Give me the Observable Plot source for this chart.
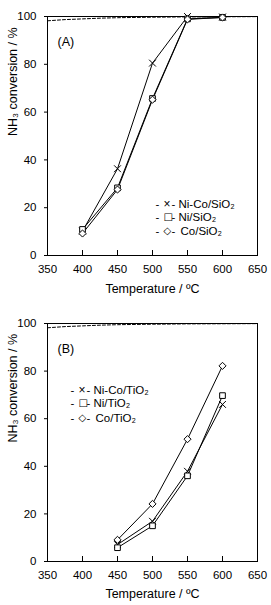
<!DOCTYPE html>
<html>
<head>
<meta charset="utf-8">
<script src="https://cdn.jsdelivr.net/npm/d3@7"></script>
<script src="https://cdn.jsdelivr.net/npm/@observablehq/plot@0.6"></script>
<style>
  html, body { margin: 0; padding: 0; background: #fff; }
  #charts { width: 271px; }
  #charts svg { display: block; }
</style>
</head>
<body>
<div id="charts"></div>
<script>
// Axis ticks
const tempTicks = [350, 400, 450, 500, 550, 600, 650];
const convTicks = [0, 20, 40, 60, 80, 100];

// Equilibrium NH3 conversion (dashed curve)
const eqTemps = [350, 375, 400, 425, 450, 500, 550, 600, 650];
const eqConv = [98.2, 98.7, 99.0, 99.3, 99.5, 99.7, 99.85, 99.9, 99.95];

// (A) SiO2-supported catalysts
const tempsA = [400, 450, 500, 550, 600];
const niCoSiO2 = [10.2, 36.3, 80.5, 100.0, 99.8];
const niSiO2 = [10.9, 28.3, 65.7, 99.0, 99.6];
const coSiO2 = [9.2, 27.6, 65.2, 98.8, 99.6];

// (B) TiO2-supported catalysts
const tempsB = [450, 500, 550, 600];
const niCoTiO2 = [7.1, 16.9, 37.9, 66.0];
const niTiO2 = [5.8, 15.0, 36.0, 69.7];
const coTiO2 = [9.1, 24.2, 51.4, 82.2];

// Marker per catalyst: plot symbol and the matching legend glyph
const symbols = ["times", "square", "diamond2"];
const glyphs = ["×", "□", "◇"];
const font = "Arial, 'Liberation Sans', sans-serif";

function toRows(temps, seriesList, names) {
  const rows = [];
  seriesList.forEach((vals, i) => {
    vals.forEach((v, j) => rows.push({series: names[i], symbol: symbols[i], T: temps[j], conv: v}));
  });
  return rows;
}

// One legend entry "-marker- name", offset from the frame's top-left corner
function legendEntry(name, i, dx, dy, textDx) {
  const base = {frameAnchor: "top-left", dy, fill: "#000", fontSize: "11.5px"};
  const glyphFont = i === 0
    ? {fontFamily: font, fontSize: "12px"}
    : {fontFamily: "'DejaVu Sans', sans-serif", fontSize: "10px"};
  return [
    Plot.text(["-"], {...base, dx: dx - 8}),
    Plot.text([glyphs[i]], {...base, ...glyphFont, dx}),
    Plot.text(["-"], {...base, dx: dx + 8}),
    Plot.text([name], {...base, dx: dx + textDx, textAnchor: "start"})
  ];
}

function panel({tag, temps, series, names, height, marginTop, marginBottom, titleDy, legend}) {
  const rows = toRows(temps, series, names);
  const eq = eqTemps.map((T, i) => ({T, conv: eqConv[i]}));
  return Plot.plot({
    width: 271,
    height,
    marginLeft: 47,
    marginRight: 14,
    marginTop,
    marginBottom,
    style: {fontFamily: font, fontSize: "11.5px", color: "#000", background: "#fff"},
    x: {domain: [350, 650]},
    y: {domain: [0, 100]},
    symbol: {type: "identity"},
    marks: [
      Plot.frame({stroke: "#000", strokeWidth: 1}),
      Plot.axisX(tempTicks, {tickSize: -5, tickPadding: 14, label: null, fontSize: "11.5px"}),
      Plot.axisY(convTicks, {tickSize: 3, tickPadding: 8, label: null, fontSize: "11.5px"}),
      Plot.line(eq, {x: "T", y: "conv", stroke: "#000", strokeWidth: 1, strokeDasharray: "3,2"}),
      Plot.line(rows, {x: "T", y: "conv", z: "series", stroke: "#000", strokeWidth: 1}),
      Plot.dot(rows, {x: "T", y: "conv", symbol: "symbol", r: 3.2, stroke: "#000", fill: "#fff", strokeWidth: 1}),
      // panel tag
      Plot.text([tag], {frameAnchor: "top-left", dx: 10, dy: 21, textAnchor: "start", fontSize: "12.5px", fill: "#000"}),
      // axis titles
      Plot.text(["Temperature / ºC"], {frameAnchor: "bottom", dy: titleDy, fontSize: "12.5px", fill: "#000"}),
      Plot.text(["NH₃ conversion / %"], {frameAnchor: "left", dx: -35, rotate: -90, fontSize: "12.5px", fill: "#000"}),
      // legend
      ...names.flatMap((n, i) => legendEntry(n, i, legend.dx, legend.dy[i], legend.textDx[i]))
    ]
  });
}

const charts = document.getElementById("charts");
charts.append(panel({
  tag: "(A)", temps: tempsA, series: [niCoSiO2, niSiO2, coSiO2],
  names: ["Ni-Co/SiO₂", "Ni/SiO₂", "Co/SiO₂"],
  height: 303, marginTop: 16, marginBottom: 48, titleDy: 37,
  legend: {dx: 116, dy: [183, 196.5, 210.5], textDx: [15, 15, 17]}
}));
charts.append(panel({
  tag: "(B)", temps: tempsB, series: [niCoTiO2, niTiO2, coTiO2],
  names: ["Ni-Co/TiO₂", "Ni/TiO₂", "Co/TiO₂"],
  height: 302, marginTop: 20, marginBottom: 44, titleDy: 36,
  legend: {dx: 31, dy: [62, 75, 90], textDx: [15, 15, 17]}
}));
</script>
</body>
</html>
